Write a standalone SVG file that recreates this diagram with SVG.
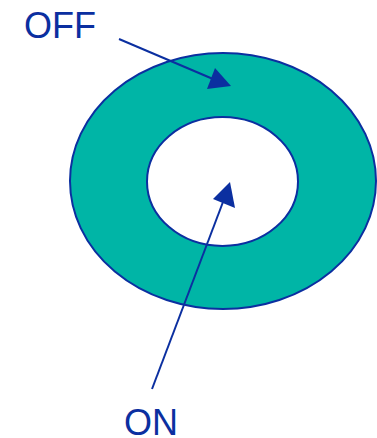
<svg xmlns="http://www.w3.org/2000/svg" width="377" height="438" viewBox="0 0 377 438">
<style>
.lbl{font-family:"Liberation Sans",Arial,sans-serif;font-size:36px;fill:#0B2FA0}
.ln{stroke:#0B2FA0;stroke-width:2;fill:none}
.hd{fill:#0B2FA0}
</style>
<rect width="377" height="438" fill="#fff"/>
<g id="ring">
<path d="M70,181a153,128 0 1,0 306,0a153,128 0 1,0 -306,0Z M147,181.5a75.5,64.5 0 1,0 151,0a75.5,64.5 0 1,0 -151,0Z" fill="#00B5A6" fill-rule="evenodd" stroke="#0B2FA0" stroke-width="2"/>
</g>
<g id="off">
<text class="lbl" x="24" y="38">OFF</text>
</g>
<g id="on">
<text class="lbl" x="124" y="435">ON</text>
</g>
<g id="connectors">
<line class="ln" x1="119" y1="39" x2="213" y2="79"/>
<polygon class="hd" points="231,86 207,89 215,68"/>
<line class="ln" x1="152" y1="389" x2="223" y2="202"/>
<polygon class="hd" points="230,182 213,199 235,208"/>
</g>
</svg>
